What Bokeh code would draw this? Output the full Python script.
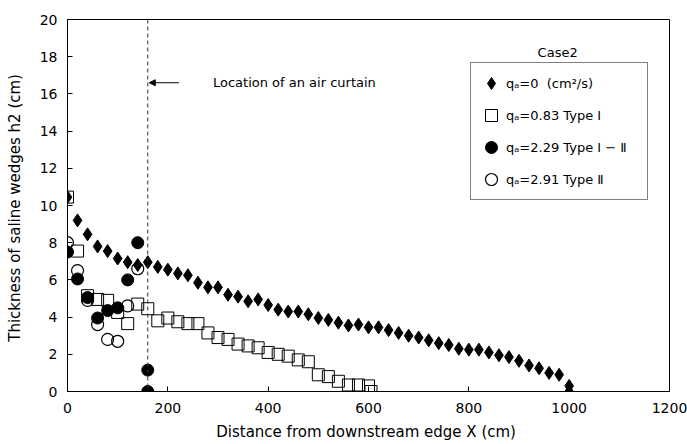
from bokeh.plotting import figure
from bokeh.models import Range1d, Span, Arrow, NormalHead, Label, Legend, LegendItem, FixedTicker
from bokeh.embed import file_html
from bokeh.resources import INLINE

# ---- data ----
x_ticks = [0, 200, 400, 600, 800, 1000, 1200]
y_ticks = [0, 2, 4, 6, 8, 10, 12, 14, 16, 18, 20]

# qa = 0 (cm2/s)
x_q0 = [0, 20, 40, 60, 80, 100, 120, 140, 160, 180, 200, 220, 240, 260, 280, 300,
        320, 340, 360, 380, 400, 420, 440, 460, 480, 500, 520, 540, 560, 580, 600,
        620, 640, 660, 680, 700, 720, 740, 760, 780, 800, 820, 840, 860, 880, 900,
        920, 940, 960, 980, 1000, 1000]
h_q0 = [10.45, 9.2, 8.45, 7.8, 7.55, 7.15, 6.95, 6.8, 6.95, 6.7, 6.55, 6.35, 6.25, 5.85,
        5.6, 5.6, 5.2, 5.1, 4.85, 4.95, 4.65, 4.4, 4.3, 4.3, 4.15, 3.95, 3.85, 3.7,
        3.55, 3.6, 3.45, 3.45, 3.3, 3.15, 3.0, 2.9, 2.75, 2.6, 2.5, 2.3, 2.25, 2.25,
        2.1, 1.95, 1.85, 1.65, 1.4, 1.25, 1.0, 0.9, 0.3, 0.0]

# qa = 0.83 Type I
x_q083 = [0, 20, 40, 60, 80, 100, 120, 140, 160, 180, 200, 220, 240, 260, 280, 300,
          320, 340, 360, 380, 400, 420, 440, 460, 480, 500, 520, 540, 560, 580, 600, 605]
h_q083 = [10.45, 7.55, 5.15, 4.95, 4.9, 4.25, 3.65, 4.7, 4.45, 3.8, 3.95, 3.75, 3.65,
          3.65, 3.15, 2.9, 2.8, 2.55, 2.45, 2.35, 2.1, 2.0, 1.9, 1.7, 1.6, 0.9, 0.8,
          0.55, 0.35, 0.35, 0.3, 0.0]

# qa = 2.29 Type I-II
x_q229 = [0, 20, 40, 60, 80, 100, 120, 140, 160, 160]
h_q229 = [7.5, 6.05, 5.05, 3.95, 4.35, 4.5, 6.0, 8.0, 1.15, 0.0]

# qa = 2.91 Type II
x_q291 = [0, 20, 40, 60, 80, 100, 120, 140]
h_q291 = [8.0, 6.5, 4.9, 3.6, 2.8, 2.7, 4.6, 6.6]

air_curtain_x = 160

FONT = "DejaVu Sans"

p = figure(width=687, height=444, x_range=Range1d(0, 1200), y_range=Range1d(0, 20),
           output_backend="svg", toolbar_location=None,
           min_border_left=67, min_border_right=18, min_border_top=19, min_border_bottom=53)

p.xgrid.visible = False
p.ygrid.visible = False
p.outline_line_color = "black"
p.outline_line_alpha = 1.0
p.outline_line_width = 1
p.background_fill_color = "white"
p.border_fill_color = "white"

p.xaxis.ticker = FixedTicker(ticks=x_ticks)
p.yaxis.ticker = FixedTicker(ticks=y_ticks)
for ax in (p.xaxis, p.yaxis):
    ax.axis_line_color = "black"
    ax.major_tick_line_color = "black"
    ax.major_tick_in = 5
    ax.major_tick_out = 0
    ax.minor_tick_in = 0
    ax.minor_tick_out = 0
    ax.major_label_text_font = FONT
    ax.major_label_text_font_size = "14px"
    ax.major_label_text_color = "black"
    ax.axis_label_text_font = FONT
    ax.axis_label_text_font_size = "15px"
    ax.axis_label_text_font_style = "normal"
    ax.axis_label_text_color = "black"

p.xaxis.axis_label = "Distance from downstream edge  X (cm)"
p.yaxis.axis_label = "Thickness of saline wedges  h2 (cm)"
p.xaxis.major_label_standoff = 11
p.xaxis.axis_label_standoff = 7
p.yaxis.major_label_standoff = 10
p.yaxis.axis_label_standoff = 13

# air curtain location
p.add_layout(Span(location=air_curtain_x, dimension="height", line_color="#333333",
                  line_width=1, line_dash="4 3"))
p.add_layout(Arrow(x_start=222, y_start=16.6, x_end=163, y_end=16.6,
                   line_color="black", line_width=1.2,
                   end=NormalHead(size=6, fill_color="black", line_color="black")))
p.add_layout(Label(x=290, y=16.6, text="Location of an air curtain", text_font=FONT,
                   text_font_size="13px", text_baseline="middle", text_align="left",
                   text_color="black"))

# series
r0 = p.scatter(x_q0, h_q0, marker="diamond", size=13, fill_color="black", line_color="black")
r1 = p.scatter(x_q083, h_q083, marker="square", size=12, fill_alpha=0, line_color="black",
               line_width=1)
r2 = p.scatter(x_q229, h_q229, marker="circle", size=12, fill_color="black", line_color="black")
r3 = p.scatter(x_q291, h_q291, marker="circle", size=12, fill_alpha=0, line_color="black",
               line_width=1.2)

legend = Legend(items=[
    LegendItem(label="qₐ=0  (cm²/s)", renderers=[r0]),
    LegendItem(label="qₐ=0.83 Type Ⅰ", renderers=[r1]),
    LegendItem(label="qₐ=2.29 Type Ⅰ − Ⅱ", renderers=[r2]),
    LegendItem(label="qₐ=2.91 Type Ⅱ", renderers=[r3]),
], location=(403, 191), glyph_width=30, glyph_height=30, label_height=30,
    label_standoff=0, label_width=136, padding=5, spacing=2, margin=0,
    border_line_color="black", border_line_width=1, background_fill_color="white",
    background_fill_alpha=1.0, label_text_font=FONT, label_text_font_size="13px",
    label_text_color="black")
p.add_layout(legend, "center")

p.add_layout(Label(x=977, y=18.2, text="Case2", text_font=FONT, text_font_size="13px",
                   text_align="center", text_baseline="middle", text_color="black"))

open("out.html", "w").write(file_html(p, INLINE))
